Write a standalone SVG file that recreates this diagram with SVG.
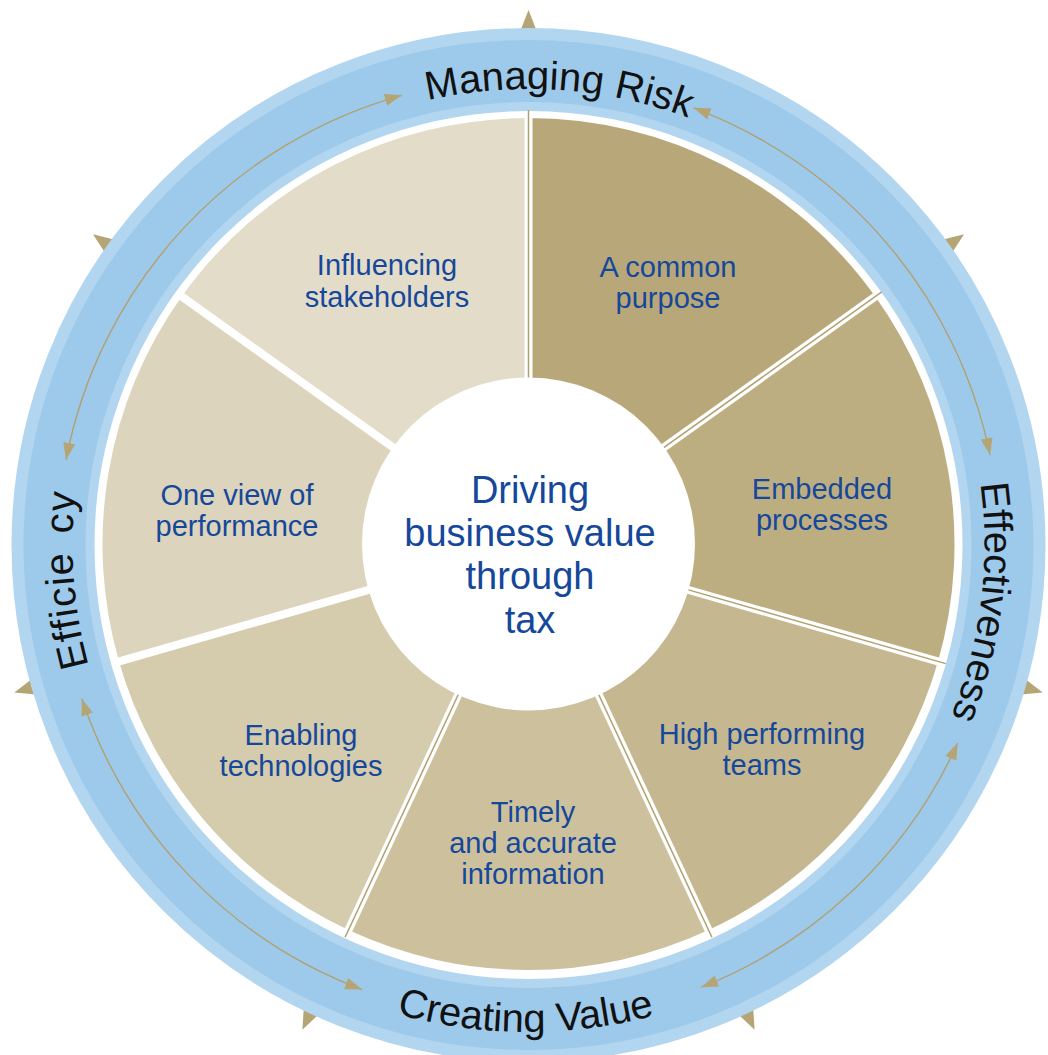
<svg xmlns="http://www.w3.org/2000/svg" xmlns:xlink="http://www.w3.org/1999/xlink" width="1048" height="1055" viewBox="0 0 1048 1055">
  <style>
    .seg-text { font-family: "Liberation Sans", Arial, sans-serif; font-size: 29px; fill: #15489a; text-anchor: middle; }
    .hub-text { font-family: "Liberation Sans", Arial, sans-serif; font-size: 38px; fill: #15489a; text-anchor: middle; }
    .ring-text { font-family: "Liberation Sans", Arial, sans-serif; font-size: 40px; fill: #111111; text-anchor: middle; }
    .gap { stroke: #ffffff; stroke-width: 8; }
    .rule { stroke: #b1a070; stroke-width: 1.5; }
    .cycle { fill: none; stroke: #b1a070; stroke-width: 1.4; marker-start: url(#head); marker-end: url(#head); }
    .tip { fill: #b5a575; }
  </style>
  <defs>
    <marker id="head" markerUnits="userSpaceOnUse" markerWidth="18" markerHeight="12" refX="17" refY="6" orient="auto-start-reverse">
      <path d="M0,0 L17,6 L0,12 Z" fill="#b5a575"/>
    </marker>
    <path id="tri" d="M0,-535 L9,-512 L-9,-512 Z"/>
    <!-- clockwise circle starting at the bottom: letters stand outward -->
    <path id="cwPath" d="M528.5,1001 A456,456 0 0 1 528.5,89 A456,456 0 0 1 528.5,1001"/>
    <!-- counter-clockwise circle starting at the top: letters stand inward -->
    <path id="ccwPath" d="M528.5,58 A487,487 0 0 0 528.5,1032 A487,487 0 0 0 528.5,58"/>
  </defs>

  <!-- outward pointers at each divider angle -->
  <g id="pointers" class="tip">
    <use xlink:href="#tri" href="#tri" transform="translate(528.5,545) rotate(0)"/>
    <use xlink:href="#tri" href="#tri" transform="translate(528.5,545) rotate(54.5)"/>
    <use xlink:href="#tri" href="#tri" transform="translate(528.5,545) rotate(106)"/>
    <use xlink:href="#tri" href="#tri" transform="translate(528.5,545) rotate(155)"/>
    <use xlink:href="#tri" href="#tri" transform="translate(528.5,545) rotate(205)"/>
    <use xlink:href="#tri" href="#tri" transform="translate(528.5,545) rotate(254)"/>
    <use xlink:href="#tri" href="#tri" transform="translate(528.5,545) rotate(305.5)"/>
  </g>

  <!-- blue outer ring -->
  <g id="ring">
    <circle cx="528.5" cy="545" r="475.5" fill="none" stroke="#b2d6f0" stroke-width="83"/>
    <circle cx="528.5" cy="545" r="474" fill="none" stroke="#9dcaeb" stroke-width="62"/>
  </g>

  <!-- wheel segments -->
  <g id="seg-common-purpose">
    <path d="M528.5,544 L528.5,118 A426,426 0 0 1 875.3,296.6 Z" fill="#b8a779"/>
    <text class="seg-text" x="668" y="277">A common</text>
    <text class="seg-text" x="668" y="308">purpose</text>
  </g>
  <g id="seg-embedded-processes">
    <path d="M528.5,544 L875.3,296.6 A426,426 0 0 1 938.0,661.4 Z" fill="#bdae82"/>
    <text class="seg-text" x="822" y="499">Embedded</text>
    <text class="seg-text" x="822" y="530">processes</text>
  </g>
  <g id="seg-high-performing-teams">
    <path d="M528.5,544 L938.0,661.4 A426,426 0 0 1 708.5,930.1 Z" fill="#c5b790"/>
    <text class="seg-text" x="762" y="744">High performing</text>
    <text class="seg-text" x="762" y="775">teams</text>
  </g>
  <g id="seg-timely-information">
    <path d="M528.5,544 L708.5,930.1 A426,426 0 0 1 348.5,930.1 Z" fill="#cdc19d"/>
    <text class="seg-text" x="533" y="822">Timely</text>
    <text class="seg-text" x="533" y="853">and accurate</text>
    <text class="seg-text" x="533" y="884">information</text>
  </g>
  <g id="seg-enabling-technologies">
    <path d="M528.5,544 L348.5,930.1 A426,426 0 0 1 119.0,661.4 Z" fill="#d5cbad"/>
    <text class="seg-text" x="301" y="745">Enabling</text>
    <text class="seg-text" x="301" y="776">technologies</text>
  </g>
  <g id="seg-one-view">
    <path d="M528.5,544 L119.0,661.4 A426,426 0 0 1 181.7,296.6 Z" fill="#dcd4bc"/>
    <text class="seg-text" x="237" y="505">One view of</text>
    <text class="seg-text" x="237" y="536">performance</text>
  </g>
  <g id="seg-influencing-stakeholders">
    <path d="M528.5,544 L181.7,296.6 A426,426 0 0 1 528.5,118 Z" fill="#e3dcc9"/>
    <text class="seg-text" x="387" y="275">Influencing</text>
    <text class="seg-text" x="387" y="307">stakeholders</text>
  </g>

  <!-- dividers between segments -->
  <g id="dividers">
    <line class="gap" x1="528.5" y1="544" x2="528.5" y2="112"/>
    <line class="gap" x1="528.5" y1="544" x2="880.2" y2="293.1"/>
    <line class="gap" x1="528.5" y1="544" x2="943.8" y2="663.1"/>
    <line class="gap" x1="528.5" y1="544" x2="711.1" y2="935.5"/>
    <line class="gap" x1="528.5" y1="544" x2="345.9" y2="935.5"/>
    <line class="gap" x1="528.5" y1="544" x2="113.2" y2="663.1"/>
    <line class="gap" x1="528.5" y1="544" x2="176.8" y2="293.1"/>
    <line class="rule" x1="528.5" y1="384" x2="528.5" y2="110"/>
    <line class="rule" x1="658.8" y1="451.1" x2="881.8" y2="291.9"/>
    <line class="rule" x1="682.3" y1="588.1" x2="945.7" y2="663.6"/>
    <line class="rule" x1="596.1" y1="689.0" x2="711.9" y2="937.3"/>
    <line class="rule" x1="460.9" y1="689.0" x2="345.1" y2="937.3"/>
  </g>

  <!-- hub -->
  <g id="hub">
    <circle cx="528.5" cy="544" r="166.5" fill="#ffffff"/>
    <text class="hub-text" x="530" y="503">Driving</text>
    <text class="hub-text" x="530" y="546">business value</text>
    <text class="hub-text" x="530" y="589">through</text>
    <text class="hub-text" x="530" y="633">tax</text>
  </g>

  <!-- two-way arrows inside the ring -->
  <g id="connectors">
    <path class="cycle" d="M401.8,95.3 A471,471 0 0 0 66.0,459.9"/>
    <path class="cycle" d="M693.4,107.8 A471,471 0 0 1 990.0,455.1"/>
    <path class="cycle" d="M957.8,742.8 A471,471 0 0 1 701.1,987.2"/>
    <path class="cycle" d="M81.8,698.5 A471,471 0 0 0 362.0,989.6"/>
  </g>

  <!-- ring captions -->
  <g id="ring-labels">
    <text class="ring-text"><textPath xlink:href="#cwPath" href="#cwPath" startOffset="51.07%">Managing Risk</textPath></text>
    <text class="ring-text"><textPath xlink:href="#cwPath" href="#cwPath" startOffset="76.99%">Effectiveness</textPath></text>
    <text class="ring-text" letter-spacing="1"><textPath xlink:href="#cwPath" href="#cwPath" startOffset="23.8%">Efficie<tspan dx="6"> cy</tspan></textPath></text>
    <text class="ring-text"><textPath xlink:href="#ccwPath" href="#ccwPath" startOffset="49.9%">Creating Value</textPath></text>
  </g>
</svg>
